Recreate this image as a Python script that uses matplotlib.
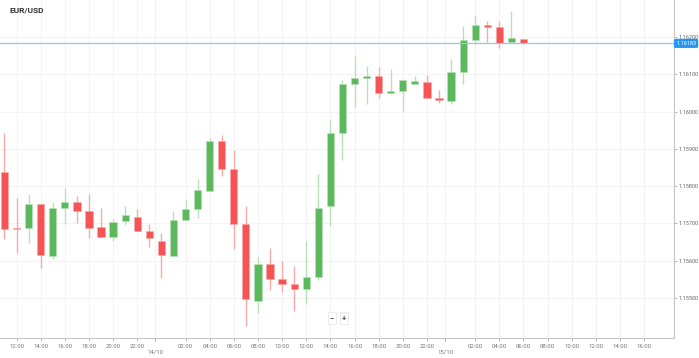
import matplotlib
matplotlib.use("Agg")
import matplotlib.pyplot as plt
from matplotlib.patches import Rectangle

# hourly EUR/USD candles, hour counted from 13/10 00:00
hours = list(range(11, 55))
opens = [1.15838, 1.15688, 1.15688, 1.15752, 1.15613, 1.15742, 1.15758, 1.15734, 1.15691, 1.15664,
         1.15707, 1.15717, 1.15680, 1.15653, 1.15613, 1.15709, 1.15739, 1.15787, 1.15921, 1.15846,
         1.15699, 1.15492, 1.15591, 1.15551, 1.15538, 1.15524, 1.15557, 1.15747, 1.15943, 1.16074,
         1.16090, 1.16095, 1.16050, 1.16055, 1.16074, 1.16079, 1.16036, 1.16028, 1.16106, 1.16192,
         1.16229, 1.16227, 1.16187, 1.16195]
highs = [1.15943, 1.15768, 1.15779, 1.15752, 1.15758, 1.15795, 1.15774, 1.15779, 1.15742, 1.15712,
         1.15747, 1.15739, 1.15699, 1.15675, 1.15734, 1.15766, 1.15819, 1.15929, 1.15937, 1.15897,
         1.15747, 1.15610, 1.15634, 1.15599, 1.15586, 1.15653, 1.15833, 1.15977, 1.16085, 1.16149,
         1.16122, 1.16120, 1.16114, 1.16085, 1.16095, 1.16098, 1.16058, 1.16141, 1.16229, 1.16259,
         1.16243, 1.16243, 1.16270, 1.16195]
lows = [1.15658, 1.15621, 1.15648, 1.15581, 1.15605, 1.15699, 1.15701, 1.15661, 1.15664, 1.15653,
        1.15696, 1.15680, 1.15637, 1.15554, 1.15613, 1.15709, 1.15715, 1.15787, 1.15827, 1.15632,
        1.15425, 1.15460, 1.15522, 1.15516, 1.15465, 1.15484, 1.15549, 1.15693, 1.15870, 1.16012,
        1.16020, 1.16036, 1.16047, 1.16002, 1.16074, 1.16036, 1.16023, 1.16020, 1.16074, 1.16181,
        1.16187, 1.16171, 1.16187, 1.16181]
closes = [1.15685, 1.15685, 1.15752, 1.15616, 1.15742, 1.15758, 1.15734, 1.15688, 1.15664, 1.15704,
          1.15723, 1.15680, 1.15661, 1.15616, 1.15709, 1.15739, 1.15790, 1.15921, 1.15846, 1.15699,
          1.15498, 1.15591, 1.15551, 1.15538, 1.15524, 1.15557, 1.15742, 1.15943, 1.16074, 1.16090,
          1.16095, 1.16050, 1.16055, 1.16085, 1.16082, 1.16036, 1.16031, 1.16106, 1.16192, 1.16232,
          1.16228, 1.16184, 1.16197, 1.16183]
last_price = 1.16183

time_ticks = [12, 14, 16, 18, 20, 22, 26, 28, 30, 32, 34, 36, 38, 40, 42, 44, 46,
              50, 52, 54, 56, 58, 60, 62, 64]
time_labels = ["12:00", "14:00", "16:00", "18:00", "20:00", "22:00",
               "02:00", "04:00", "06:00", "08:00", "10:00", "12:00", "14:00", "16:00",
               "18:00", "20:00", "22:00",
               "02:00", "04:00", "06:00", "08:00", "10:00", "12:00", "14:00", "16:00"]
date_ticks = [23.5, 47.5]
date_labels = ["14/10", "15/10"]
price_ticks = [1.155, 1.156, 1.157, 1.158, 1.159, 1.160, 1.161, 1.162]

UP = "#5cb85c"
DOWN = "#f65354"
UP_WICK = "#b9e0b9"
DOWN_WICK = "#f9a9a9"
GRID = "#f3f3f3"
AXIS = "#c4c4c4"

plt.rcParams["font.family"] = ["Roboto", "DejaVu Sans"]

fig = plt.figure(figsize=(6.99, 3.58), dpi=100)
ax = fig.add_axes([0, 20 / 358, 674 / 699, 338 / 358])

for x in time_ticks + date_ticks:
    ax.axvline(x, color=GRID, lw=0.8, zorder=0)
for y in price_ticks:
    ax.axhline(y, color=GRID, lw=0.8, zorder=0)

w = 0.6
for h, o, hi, lo, c in zip(hours, opens, highs, lows, closes):
    up = c >= o
    col = UP if up else DOWN
    wick = UP_WICK if up else DOWN_WICK
    ax.vlines(h, lo, hi, color=wick, lw=1.0, zorder=1)
    bottom = min(o, c)
    height = max(abs(c - o), 0.00003)
    ax.add_patch(Rectangle((h - w / 2, bottom), w, height, facecolor=col,
                           edgecolor=wick, lw=0.4, zorder=2))

# current price line
ax.axhline(last_price, color="#8ec7f5", lw=0.9, zorder=3)

ax.set_xlim(10.63, 66.47)
ax.set_ylim(1.15393, 1.162992)

for s in ["top", "left"]:
    ax.spines[s].set_visible(False)
for s in ["right", "bottom"]:
    ax.spines[s].set_color(AXIS)
    ax.spines[s].set_linewidth(0.8)

ax.yaxis.tick_right()
ax.set_yticks(price_ticks)
ax.set_yticklabels(["%.5f" % p for p in price_ticks])
ax.tick_params(axis="y", length=2, width=0.5, color="#999999", pad=1,
               labelsize=4, labelcolor="#666666")

ax.set_xticks(time_ticks + date_ticks)
ax.set_xticklabels(time_labels + [""] * len(date_ticks))
ax.tick_params(axis="x", length=2, width=0.5, color="#999999", pad=2,
               labelsize=4.3, labelcolor="#777777")
for x, lab in zip(date_ticks, date_labels):
    ax.text(x, -0.04, lab, transform=ax.get_xaxis_transform(), ha="center",
            va="center", fontsize=4.3, color="#777777", clip_on=False)
    ax.plot([x, x], [0, -0.012], transform=ax.get_xaxis_transform(), color="#999999",
            lw=0.5, ls=(0, (1, 1)), clip_on=False)

# price tag on the right axis
ax.text(1.003, last_price, "%.5f" % last_price, transform=ax.get_yaxis_transform(),
        ha="left", va="center", fontsize=4, color="white", clip_on=False,
        bbox=dict(boxstyle="round,pad=0.25,rounding_size=0.2", fc="#2196f3", ec="#2196f3"))

ax.text(10 / 674, 1 - 10 / 338, "EUR/USD", transform=ax.transAxes, ha="left",
        va="center", fontsize=6, fontweight="bold", color="#333333")

# zoom buttons
for bx, lab in [(332, "\u2212"), (344, "+")]:
    fig.text(bx / 699, 1 - 318 / 358, lab, ha="center", va="center", fontsize=5.5,
             fontweight="bold", color="#555555",
             bbox=dict(boxstyle="square,pad=0.3", fc="white", ec="#e3e3e3", lw=0.5))

fig.savefig("out.png", dpi=100)
